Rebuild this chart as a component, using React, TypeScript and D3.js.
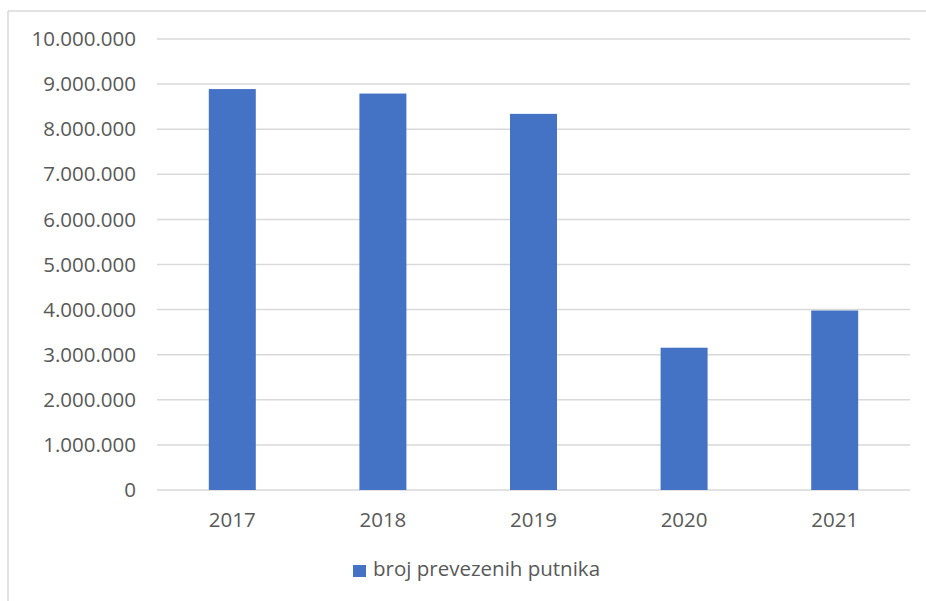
import React from "react";
import * as d3 from "d3";

const years = ["2017", "2018", "2019", "2020", "2021"];
const passengers = [8890000, 8790000, 8340000, 3155000, 3980000];
const yTicks = [0, 1000000, 2000000, 3000000, 4000000, 5000000, 6000000, 7000000, 8000000, 9000000, 10000000];
const seriesName = "broj prevezenih putnika";

const W = 926;
const H = 601;
const FONT = "'Open Sans', sans-serif";
const TEXT = "#595959";
const BAR = "#4472C4";
const GRID = "#d9d9d9";

const fmt = (v: number) => (v === 0 ? "0" : d3.format(",")(v).replace(/,/g, "."));

export default function App() {
  const x = d3.scaleBand<string>().domain(years).range([157, 910]).paddingInner(0.688).paddingOuter(0.344);
  const y = d3.scaleLinear().domain([0, 10000000]).range([490, 39]);

  return (
    <svg width={W} height={H} style={{ position: "absolute", left: 0, top: 0, background: "#fff" }}>
      <rect x={0} y={0} width={W} height={H} fill="#fff" />
      {/* chart border */}
      <line x1={8} y1={11} x2={W} y2={11} stroke={GRID} strokeWidth={1.5} />
      <line x1={8} y1={11} x2={8} y2={H} stroke={GRID} strokeWidth={1.5} />
      {yTicks.map((t) => (
        <g key={t}>
          <line x1={157} x2={910} y1={y(t)} y2={y(t)} stroke={GRID} strokeWidth={1.5} />
          <text x={136} y={y(t)} dy="0.35em" textAnchor="end" fontFamily={FONT} fontSize={20.5} fill={TEXT}>
            {fmt(t)}
          </text>
        </g>
      ))}
      {years.map((yr, i) => (
        <g key={yr}>
          <rect x={x(yr)!} y={y(passengers[i])} width={x.bandwidth()} height={y(0) - y(passengers[i])} fill={BAR} />
          <text x={x(yr)! + x.bandwidth() / 2} y={527} textAnchor="middle" fontFamily={FONT} fontSize={20.5} fill={TEXT}>
            {yr}
          </text>
        </g>
      ))}
      <rect x={353} y={565} width={13} height={12} fill={BAR} />
      <text x={373} y={576} fontFamily={FONT} fontSize={20.5} fill={TEXT}>
        {seriesName}
      </text>
    </svg>
  );
}
